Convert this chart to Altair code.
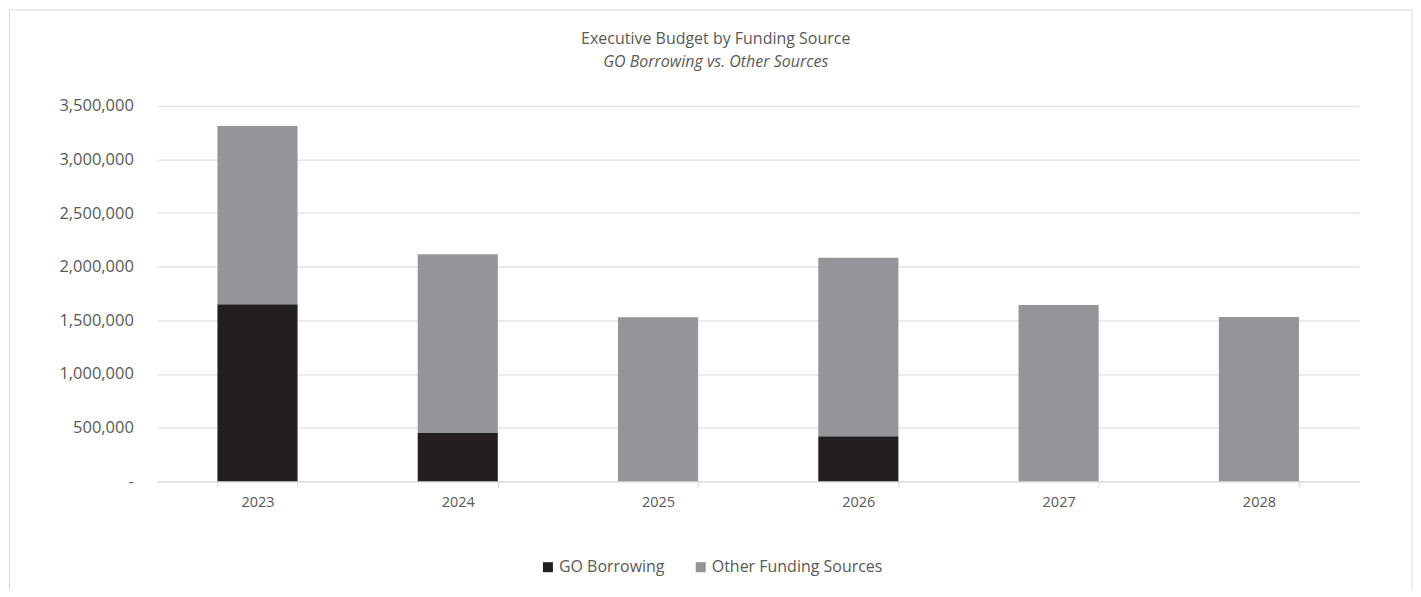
import altair as alt
import pandas as pd

years = ["2023", "2024", "2025", "2026", "2027", "2028"]
go_borrowing = [1649000, 449000, 0, 419000, 0, 0]
other_sources = [1662000, 1666000, 1529000, 1665000, 1643000, 1532000]
series = ["GO Borrowing", "Other Funding Sources"]
colors = ["#231f20", "#939598"]
y_ticks = [0, 500000, 1000000, 1500000, 2000000, 2500000, 3000000, 3500000]

rows = []
for i, yr in enumerate(years):
    rows.append({"year": yr, "series": series[0], "value": go_borrowing[i], "ord": 0})
    rows.append({"year": yr, "series": series[1], "value": other_sources[i], "ord": 1})
df = pd.DataFrame(rows)

FONT = "Open Sans"
TXT = "#595959"
GRID = "#d9d9d9"

bars = alt.Chart(df).mark_bar().encode(
    x=alt.X("year:N", sort=years, title=None,
            scale=alt.Scale(paddingInner=0.6, paddingOuter=0.3),
            axis=alt.Axis(labelAngle=0, labelFontSize=14.5, labelColor=TXT, labelFont=FONT,
                          domainColor=GRID, tickColor=GRID, tickSize=6, tickBand="extent",
                          labelPadding=8, grid=False)),
    y=alt.Y("value:Q", stack="zero", title=None,
            scale=alt.Scale(domain=[0, 3500000], nice=False),
            axis=alt.Axis(values=y_ticks, labelExpr="datum.value == 0 ? '-' : format(datum.value, ',')",
                          labelFontSize=16.5, labelColor=TXT, labelFont=FONT,
                          domain=False, ticks=False, tickSize=0, labelPadding=24,
                          gridColor=GRID, gridWidth=1)),
    color=alt.Color("series:N", sort=series, title=None,
                    scale=alt.Scale(domain=series, range=colors),
                    legend=alt.Legend(orient="none", legendX=383, legendY=454, direction="horizontal",
                                      symbolType="square", symbolSize=100, symbolStrokeWidth=0,
                                      labelFontSize=16, labelColor=TXT, labelFont=FONT,
                                      labelLimit=400, columnPadding=28, labelOffset=3)),
    order=alt.Order("ord:Q", sort="ascending"),
)

one = pd.DataFrame({"a": [0]})
left = alt.Chart(one).mark_rule(color=GRID, strokeWidth=1).encode(
    x=alt.value(-148), y=alt.value(-96), y2=alt.value(485))
top = alt.Chart(one).mark_rule(color=GRID, strokeWidth=1).encode(
    x=alt.value(-148), x2=alt.value(1256), y=alt.value(-96))
right = alt.Chart(one).mark_rule(color=GRID, strokeWidth=1).encode(
    x=alt.value(1256), y=alt.value(-96), y2=alt.value(485))

chart = alt.layer(bars, left, top, right).properties(
    width=1203, height=376,
    padding={"left": 0.5, "top": 0.5, "right": 0, "bottom": 0},
    title=alt.TitleParams(text="Executive Budget by Funding Source",
                          subtitle="GO Borrowing vs. Other Sources",
                          fontSize=16, subtitleFontSize=16, subtitleFontStyle="italic",
                          font=FONT, subtitleFont=FONT, fontWeight="normal",
                          color=TXT, subtitleColor=TXT, anchor="middle", frame="bounds",
                          offset=-61, subtitlePadding=7, dx=5),
).configure(background="white").configure_view(stroke=None)

chart.save("out.html", embed_options={"renderer": "svg", "actions": False})
